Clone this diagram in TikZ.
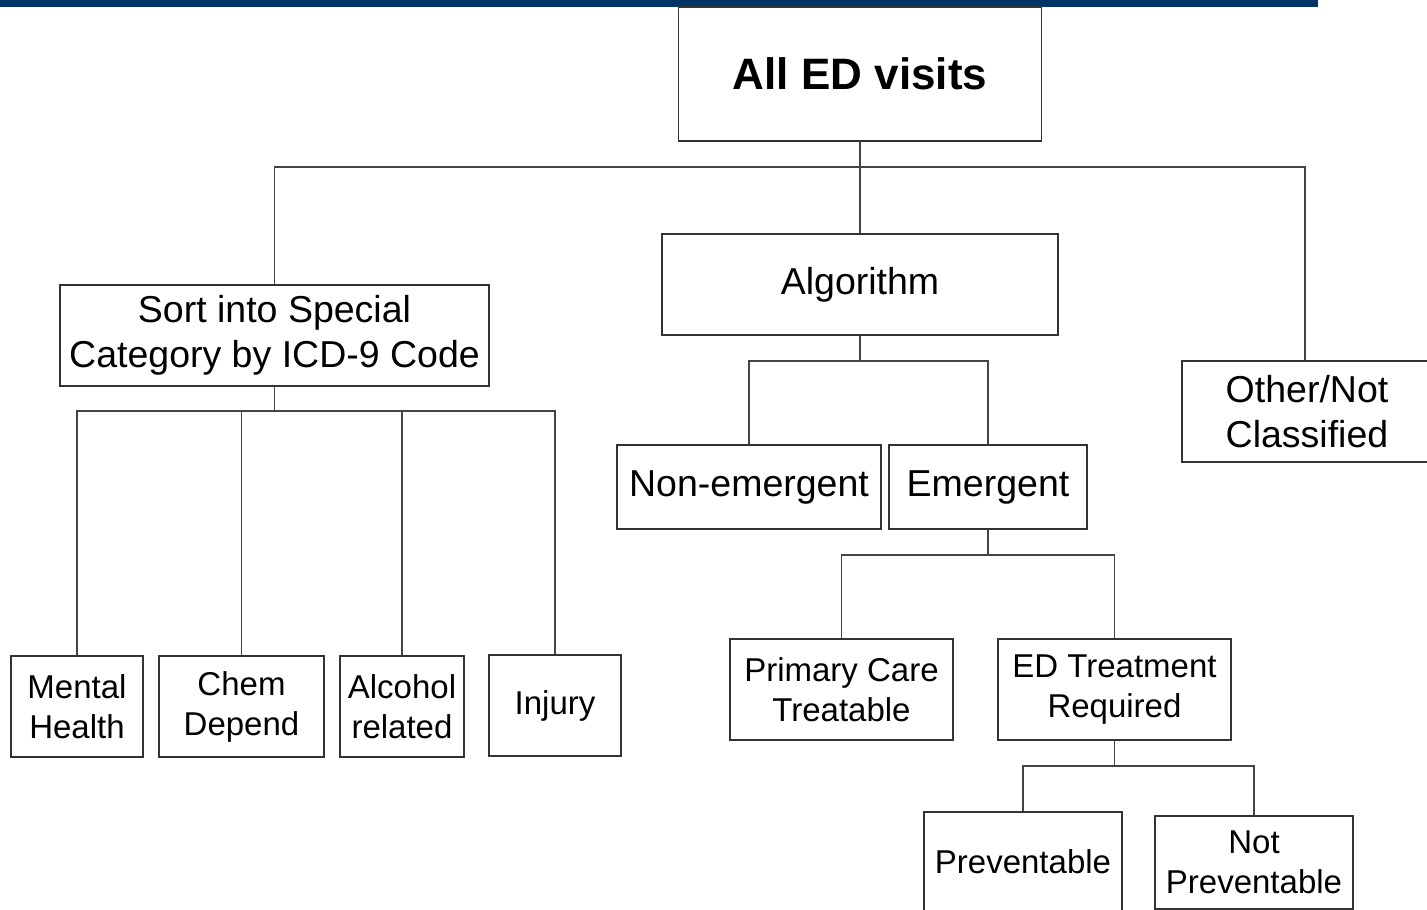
\documentclass[tikz,border=0pt]{standalone}
\usepackage{fontspec}
\setmainfont{Liberation Sans}
\definecolor{barblue}{HTML}{003366}
\definecolor{boxc}{HTML}{333333}
\definecolor{connc}{HTML}{444444}
\tikzset{
  box/.style={draw=boxc, line width=1.2pt, inner sep=0pt, align=center, text=black,
    font=\fontsize{33}{40}\selectfont},
  midbox/.style={box, font=\fontsize{37.5}{45}\selectfont},
  conn/.style={draw=connc, line width=1.1pt},
}
\begin{document}
\begin{tikzpicture}[x=1pt,y=-1pt]
\useasboundingbox (0,0) rectangle (1427,910);
\clip (0,0) rectangle (1427,910);
\fill[barblue] (0,0) rectangle (1318,7);

\node[box, font=\fontsize{44}{52}\selectfont\bfseries, minimum width=363pt, minimum height=134pt] (all) at (860,74) {All ED visits};
\node[midbox, minimum width=396pt, minimum height=101pt] (algo) at (860,284.5) {Algorithm};
\node[midbox, minimum width=429pt, minimum height=101pt] (sort) at (274.5,335.5) {Sort into Special\\Category by ICD-9 Code};
\node[midbox, minimum width=250pt, minimum height=101pt] (other) at (1307,411.5) {Other/Not\\Classified};

\node[box, minimum width=132pt, minimum height=101pt] (mental) at (77,706.5) {Mental\\Health};
\node[box, minimum width=165pt, minimum height=101pt] (chem) at (241.5,706.5) {Chem\\Depend};
\node[box, minimum width=124pt, minimum height=101pt] (alcohol) at (402,706.5) {Alcohol\\related};
\node[box, minimum width=132pt, minimum height=101pt] (injury) at (555,705.5) {Injury};

\node[midbox, minimum width=264pt, minimum height=84pt] (nonem) at (749,487) {Non-emergent};
\node[midbox, minimum width=198pt, minimum height=84pt] (emerg) at (988,487) {Emergent};

\node[box, minimum width=223pt, minimum height=101pt] (primary) at (841.5,689.5) {Primary Care\\Treatable};
\node[box, minimum width=233pt, minimum height=101pt] (edtreat) at (1114.5,689.5) {ED Treatment\\Required};

\node[box, minimum width=198pt, minimum height=100pt] (prev) at (1023,862) {Preventable};
\node[box, minimum width=198pt, minimum height=93pt] (notprev) at (1254,862.5) {Not\\Preventable};

\coordinate (h1) at (860,167);
\coordinate (h2) at (274.5,411);
\coordinate (h3) at (860,361);
\coordinate (h4) at (988,555);
\coordinate (h5) at (1114.5,766);

\draw[conn] (all.south) -- (algo.north);
\draw[conn] (sort.north) |- (h1) -| ([xshift=-2pt]other.north);

\draw[conn] (sort.south) -- (h2);
\draw[conn] (mental.north) |- (h2) -| (injury.north);
\draw[conn] (chem.north) -- (chem.north |- h2);
\draw[conn] (alcohol.north) -- (alcohol.north |- h2);

\draw[conn] (algo.south) -- (h3);
\draw[conn] (nonem.north) |- (h3) -| (emerg.north);

\draw[conn] (emerg.south) -- (h4);
\draw[conn] (primary.north) |- (h4) -| (edtreat.north);

\draw[conn] (edtreat.south) -- (h5);
\draw[conn] (prev.north) |- (h5) -| (notprev.north);
\end{tikzpicture}
\end{document}
